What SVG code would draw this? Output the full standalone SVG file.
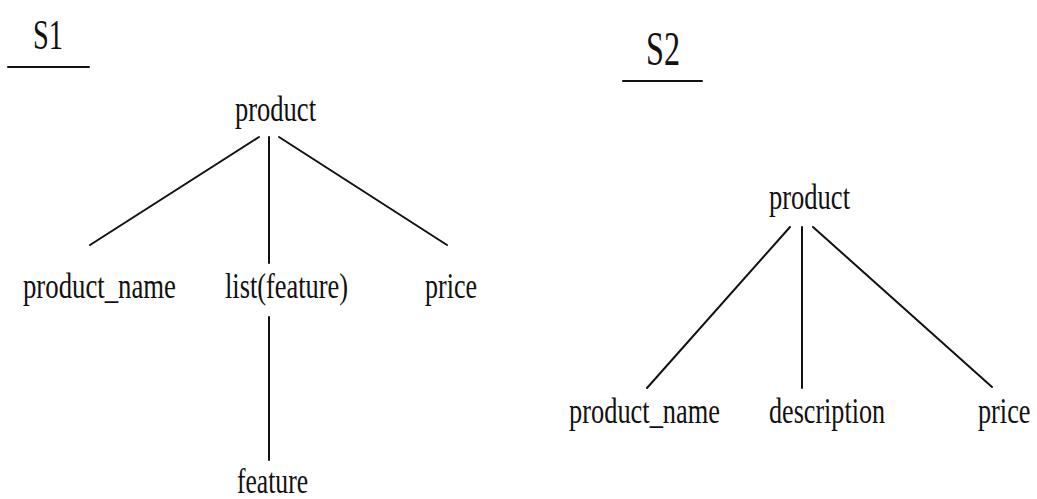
<svg xmlns="http://www.w3.org/2000/svg" width="1037" height="499" viewBox="0 0 1037 499">
  <style>
    .lbl { font-family: "Liberation Serif", "Times New Roman", serif; font-size: 35px; fill: #111; }
    .ttl { font-family: "Liberation Serif", "Times New Roman", serif; fill: #111; }
    .edge { stroke: #111; stroke-width: 2; fill: none; stroke-linecap: round; }
  </style>
  <rect width="1037" height="499" fill="#ffffff"/>

  <!-- schema titles -->
  <g id="title-s1">
    <text class="ttl" x="33" y="49" font-size="43" textLength="30" lengthAdjust="spacingAndGlyphs">S1</text>
    <line class="edge" x1="8" y1="67" x2="89" y2="67"/>
  </g>
  <g id="title-s2">
    <text class="ttl" x="646" y="65" font-size="48" textLength="34" lengthAdjust="spacingAndGlyphs">S2</text>
    <line class="edge" x1="623" y1="81" x2="702" y2="81"/>
  </g>

  <!-- S1 tree -->
  <g id="s1-product"><text class="lbl" x="235" y="121" textLength="81" lengthAdjust="spacingAndGlyphs">product</text></g>
  <g id="s1-product_name"><text class="lbl" x="23" y="298" textLength="153" lengthAdjust="spacingAndGlyphs">product_name</text></g>
  <g id="s1-list"><text class="lbl" x="225" y="298" textLength="123" lengthAdjust="spacingAndGlyphs">list(feature)</text></g>
  <g id="s1-price"><text class="lbl" x="425" y="298" textLength="52" lengthAdjust="spacingAndGlyphs">price</text></g>
  <g id="s1-feature"><text class="lbl" x="237" y="493" textLength="71" lengthAdjust="spacingAndGlyphs">feature</text></g>

  <!-- S2 tree -->
  <g id="s2-product"><text class="lbl" x="769" y="209" textLength="81" lengthAdjust="spacingAndGlyphs">product</text></g>
  <g id="s2-product_name"><text class="lbl" x="569" y="423" textLength="151" lengthAdjust="spacingAndGlyphs">product_name</text></g>
  <g id="s2-description"><text class="lbl" x="769" y="423" textLength="116" lengthAdjust="spacingAndGlyphs">description</text></g>
  <!-- narrowed with a transform so its box stays inside the right edge -->
  <g id="s2-price"><text class="lbl" transform="translate(978 423) scale(0.75 1)">price</text></g>

  <!-- connectors -->
  <g id="connectors">
    <line class="edge" x1="259" y1="137" x2="90" y2="245"/>
    <line class="edge" x1="269" y1="137" x2="269" y2="263"/>
    <line class="edge" x1="279" y1="137" x2="447" y2="245"/>
    <line class="edge" x1="269" y1="317" x2="269" y2="460"/>

    <line class="edge" x1="790" y1="227" x2="647" y2="388"/>
    <line class="edge" x1="802" y1="227" x2="802" y2="388"/>
    <line class="edge" x1="813" y1="227" x2="992" y2="387"/>
  </g>
</svg>
